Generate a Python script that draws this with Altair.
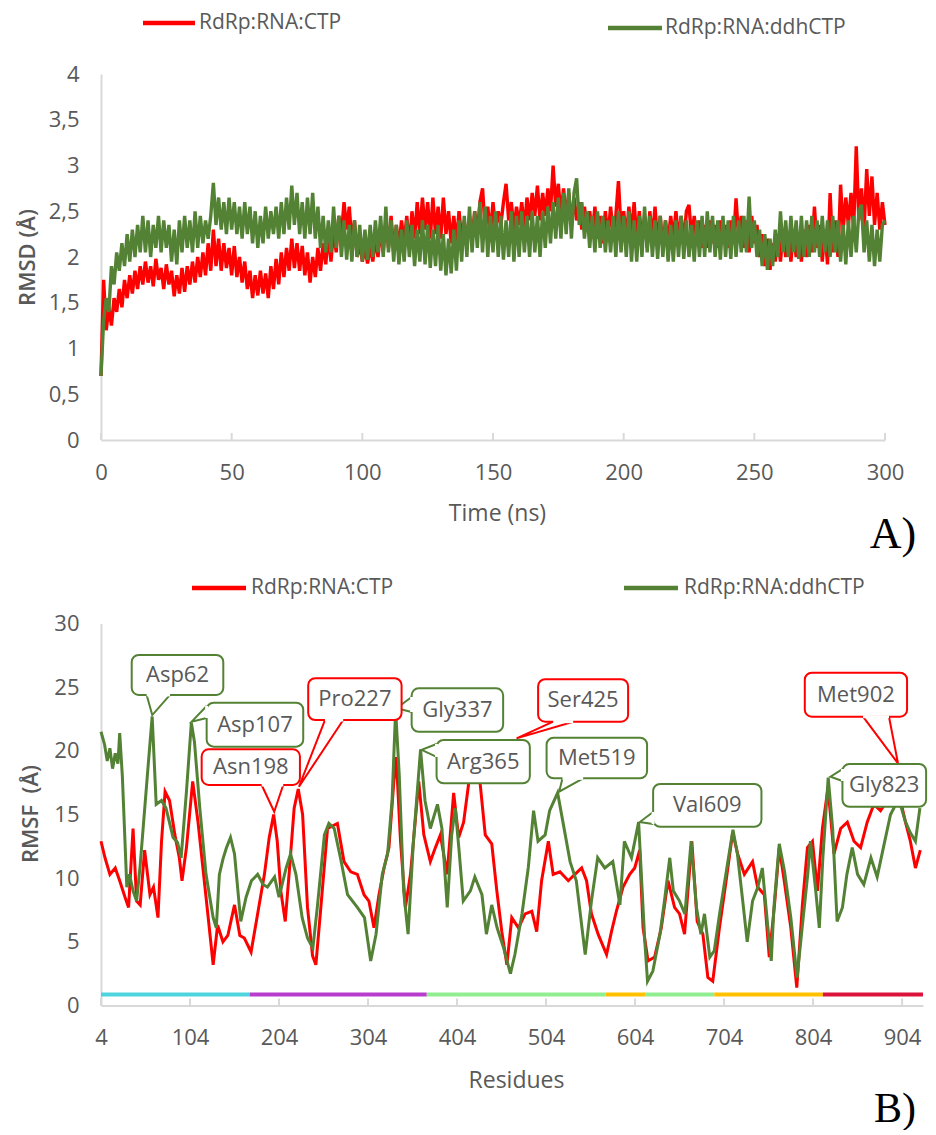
import altair as alt
import pandas as pd

RED = "#FF0000"
GREEN = "#548235"
TXT = "#595959"
AXC = "#D9D9D9"
FONT = "Open Sans"

# ---------------- Panel A data: RMSD vs time ----------------
time_ns = list(range(301))
rmsd_ctp = [
    0.70, 1.75, 1.20, 1.45, 1.25, 1.55, 1.40, 1.65, 1.45, 1.75,
    1.55, 1.80, 1.60, 1.85, 1.65, 1.90, 1.70, 1.95, 1.72, 1.90,
    1.68, 1.98, 1.75, 1.88, 1.65, 1.92, 1.70, 1.85, 1.57, 1.80,
    1.60, 1.88, 1.62, 1.90, 1.70, 1.95, 1.72, 2.00, 1.78, 2.05,
    1.80, 2.15, 1.85, 2.30, 1.90, 2.20, 1.85, 2.15, 1.88, 2.10,
    1.80, 2.12, 1.78, 2.00, 1.72, 1.95, 1.65, 1.85, 1.55, 1.80,
    1.58, 1.85, 1.60, 1.82, 1.55, 1.90, 1.65, 1.98, 1.70, 2.05,
    1.78, 2.10, 1.85, 2.20, 1.88, 2.15, 1.85, 2.12, 1.80, 2.05,
    1.72, 2.00, 1.78, 2.10, 1.85, 2.15, 1.92, 2.25, 1.95, 2.30,
    2.05, 2.45, 2.25, 2.60, 2.30, 2.55, 2.15, 2.40, 2.00, 2.15,
    1.95, 2.10, 1.93, 2.12, 1.95, 2.20, 2.00, 2.30, 2.05, 2.40,
    2.10, 2.45, 2.05, 2.35, 2.10, 2.40, 2.15, 2.45, 2.10, 2.50,
    2.20, 2.60, 2.25, 2.65, 2.30, 2.60, 2.20, 2.65, 2.25, 2.55,
    2.20, 2.65, 2.25, 2.50, 2.15, 2.45, 2.15, 2.50, 2.20, 2.40,
    2.15, 2.45, 2.20, 2.50, 2.25, 2.60, 2.75, 2.30, 2.55, 2.25,
    2.60, 2.30, 2.50, 2.35, 2.60, 2.80, 2.40, 2.60, 2.30, 2.55,
    2.35, 2.60, 2.30, 2.65, 2.40, 2.70, 2.45, 2.78, 2.40, 2.70,
    2.45, 2.75, 2.50, 3.00, 2.55, 2.80, 2.45, 2.75, 2.40, 2.70,
    2.35, 2.65, 2.40, 2.60, 2.30, 2.55, 2.30, 2.50, 2.25, 2.55,
    2.20, 2.45, 2.15, 2.50, 2.20, 2.55, 2.25, 2.45, 2.83, 2.30,
    2.50, 2.20, 2.55, 2.25, 2.60, 2.20, 2.50, 2.15, 2.45, 2.10,
    2.50, 2.20, 2.55, 2.15, 2.45, 2.10, 2.40, 2.15, 2.45, 2.20,
    2.50, 2.20, 2.45, 2.15, 2.50, 2.57, 2.20, 2.45, 2.15, 2.40,
    2.10, 2.35, 2.10, 2.40, 2.15, 2.35, 2.10, 2.40, 2.15, 2.35,
    2.10, 2.40, 2.15, 2.64, 2.20, 2.45, 2.10, 2.40, 2.05, 2.45,
    2.15, 2.35, 2.00, 2.25, 1.90, 2.20, 1.86, 2.15, 1.95, 2.25,
    1.95, 2.30, 2.00, 2.25, 1.95, 2.30, 2.00, 2.25, 1.95, 2.30,
    2.00, 2.35, 2.05, 2.55, 2.10, 2.35, 1.95, 2.30, 1.92, 2.70,
    2.05, 2.40, 2.00, 2.79, 2.30, 2.65, 2.35, 2.70, 2.30, 3.21,
    2.40, 2.75, 2.30, 2.96, 2.45, 2.88, 2.35, 2.70, 2.30, 2.60,
    2.35,
]
rmsd_ddhctp = [
    0.70, 1.30, 1.55, 1.40, 1.90, 1.70, 2.05, 1.85, 2.15, 1.90,
    2.25, 1.95, 2.30, 2.00, 2.35, 2.05, 2.45, 2.05, 2.40, 2.00,
    2.35, 2.10, 2.45, 2.05, 2.40, 2.10, 2.35, 1.95, 2.30, 1.92,
    2.40, 2.05, 2.45, 2.10, 2.40, 2.05, 2.50, 2.10, 2.45, 2.15,
    2.40, 2.20, 2.45, 2.81, 2.35, 2.65, 2.30, 2.60, 2.25, 2.65,
    2.30, 2.60, 2.25, 2.55, 2.20, 2.60, 2.25, 2.55, 2.15, 2.50,
    2.10, 2.45, 2.15, 2.55, 2.20, 2.50, 2.25, 2.55, 2.20, 2.60,
    2.25, 2.65, 2.30, 2.78, 2.35, 2.70, 2.25, 2.60, 2.20, 2.65,
    2.25, 2.70, 2.20, 2.55, 2.10, 2.45, 2.05, 2.40, 2.05, 2.55,
    2.10, 2.45, 2.00, 2.40, 1.97, 2.35, 1.95, 2.40, 2.00, 2.35,
    1.95, 2.30, 1.97, 2.35, 2.00, 2.40, 2.05, 2.45, 2.00, 2.55,
    2.05, 2.40, 1.95, 2.35, 1.92, 2.30, 1.95, 2.40, 2.00, 2.35,
    1.90, 2.30, 1.95, 2.40, 1.92, 2.35, 1.88, 2.30, 1.90, 2.35,
    1.85, 2.25, 1.80, 2.20, 1.82, 2.30, 1.85, 2.40, 1.95, 2.45,
    2.00, 2.55, 2.05, 2.50, 2.10, 2.60, 2.05, 2.55, 2.00, 2.45,
    2.05, 2.50, 2.00, 2.45, 1.97, 2.40, 2.00, 2.50, 1.95, 2.45,
    2.00, 2.50, 2.05, 2.45, 2.00, 2.50, 2.05, 2.45, 2.00, 2.50,
    2.10, 2.55, 2.15, 2.60, 2.20, 2.65, 2.20, 2.70, 2.25, 2.75,
    2.20, 2.70, 2.86, 2.35, 2.60, 2.20, 2.50, 2.10, 2.45, 2.05,
    2.50, 2.10, 2.45, 2.05, 2.40, 2.05, 2.45, 2.00, 2.50, 2.05,
    2.45, 2.00, 2.50, 1.95, 2.40, 1.95, 2.45, 2.00, 2.55, 2.05,
    2.45, 2.00, 2.40, 1.98, 2.45, 2.00, 2.40, 1.95, 2.35, 1.95,
    2.40, 2.00, 2.45, 1.98, 2.40, 2.00, 2.35, 1.95, 2.40, 2.00,
    2.45, 2.00, 2.50, 2.05, 2.45, 2.00, 2.40, 1.97, 2.45, 2.00,
    2.40, 1.98, 2.45, 2.00, 2.40, 2.05, 2.45, 2.05, 2.66, 2.10,
    2.40, 2.00, 2.30, 1.90, 2.25, 1.86, 2.20, 1.90, 2.30, 2.00,
    2.50, 2.05, 2.40, 2.00, 2.45, 2.05, 2.40, 1.98, 2.45, 2.00,
    2.40, 2.00, 2.45, 2.05, 2.40, 2.00, 2.45, 2.05, 2.40, 2.00,
    2.45, 2.05, 2.40, 1.95, 2.35, 1.92, 2.40, 2.00, 2.45, 2.05,
    2.50, 2.57, 2.05, 2.40, 1.95, 2.35, 1.90, 2.30, 1.95, 2.35,
    2.40,
]
rmsd_ticks = [0, 50, 100, 150, 200, 250, 300]
rmsd_yticks = [0, 0.5, 1, 1.5, 2, 2.5, 3, 3.5, 4]

# ---------------- Panel B data: RMSF vs residue ----------------
rmsf_ctp = [
    (4, 12.9), (8.5, 11.6), (14, 10.3), (20, 10.8), (25, 9.8), (31, 8.5), (35, 7.7), (40, 13.9),
    (44, 8.2), (48, 7.9), (53, 12.2), (59, 8.7), (63, 9.3), (68, 6.9), (72, 12.9), (76, 16.8),
    (81, 16.1), (87, 13.4), (92, 11.6), (95, 9.8), (100, 12.4), (107, 17.6), (113, 14.4),
    (118.5, 10.8), (124, 7.2), (130, 3.2), (135, 6.3), (141, 5.0), (146.5, 5.5), (154, 7.9),
    (160, 5.5), (165, 5.3), (172.6, 4.2), (180, 7.2), (187.6, 10.3), (193, 13.2), (198, 15.0),
    (202, 12.9), (206, 9.0), (211, 6.6), (215.5, 10.5), (221, 15.5), (225.6, 17.0), (230.5, 15.0),
    (236, 7.7), (241.7, 3.9), (245.4, 3.2), (251, 7.7), (258.5, 13.9), (269.6, 14.3), (277, 11.3),
    (284.6, 10.5), (292, 10.3), (299.5, 8.7), (305, 8.2), (310.7, 6.1), (316.3, 8.7), (322, 10.8),
    (327.5, 12.4), (333, 17.6), (335.7, 19.5), (340.5, 12.9), (346, 7.7), (351.7, 10.3), (361, 17.6),
    (366.7, 13.4), (374, 11.3), (379.7, 12.4), (385.3, 13.4), (392.8, 10.3), (400.2, 16.7),
    (405.8, 13.2), (411.4, 14.4), (417, 17.4), (422.6, 18.2), (430, 17.4), (435.7, 13.4), (443, 12.7),
    (448.7, 9.0), (454.3, 5.8), (460, 3.2), (465.5, 6.9), (473, 6.1), (480.5, 7.2), (488, 7.4),
    (493.5, 5.8), (499, 9.8), (506.6, 12.9), (512, 10.3), (519.6, 10.5), (529, 9.8), (536.4, 10.3),
    (544, 10.8), (549.5, 9.8), (555, 7.2), (562.5, 5.6), (572, 4.0), (577.5, 5.8), (583, 7.4),
    (590.5, 9.3), (598, 10.3), (603.6, 10.8), (609.2, 12.2), (613, 6.1), (618.6, 3.5), (626, 3.8),
    (633.5, 6.1), (641, 9.8), (648.4, 7.7), (654, 7.2), (659.6, 5.6), (667.8, 12.9), (673.8, 6.6),
    (680.2, 5.6), (685.8, 2.2), (691.3, 1.9), (698.8, 6.1), (706.3, 9.8), (713.7, 13.6), (719.3, 11.9),
    (726.8, 10.3), (736, 11.3), (741.7, 9.3), (749.2, 8.7), (754.8, 3.8), (760.4, 7.7), (766, 12.4),
    (771.6, 9.8), (779, 6.1), (785.7, 1.4), (792, 7.9), (797.7, 12.4), (803.3, 12.9), (809, 9.0),
    (814.5, 13.9), (820.8, 17.1), (827.5, 11.9), (835, 13.9), (842.5, 14.4), (850, 12.9),
    (857.4, 12.4), (864.8, 14.4), (872.3, 15.8), (879.8, 15.3), (887.2, 16.1), (894.7, 16.8),
    (902.2, 16.1), (907.8, 14.4), (913.3, 12.9), (919, 10.8), (924.5, 12.2),
]
rmsf_ddhctp = [
    (4, 21.5), (8, 20.5), (11, 19.2), (14, 20.2), (17, 18.6), (20, 19.8), (23, 19.0), (25, 21.4),
    (28, 18.0), (33, 9.3), (36, 10.3), (40, 9.0), (44, 8.2), (48, 11.0), (52, 14.5), (56, 18.0),
    (61.5, 22.7), (66, 15.8), (72, 16.1), (77, 15.5), (85, 13.2), (90, 12.8), (94, 11.6), (100, 16.8),
    (105.5, 22.2), (109, 20.7), (115, 15.5), (122, 10.3), (130, 6.9), (133.5, 6.1), (137, 10.3),
    (141, 11.5), (145, 12.4), (149.5, 13.2), (154, 11.9), (161, 6.6), (167, 8.5), (173, 9.8),
    (180, 10.3), (186, 9.5), (191, 9.3), (199, 10.1), (204, 8.5), (212, 10.8), (217, 11.9),
    (223, 10.3), (230, 6.9), (236, 5.3), (242, 4.5), (247, 7.7), (255, 13.4), (260, 14.3),
    (266, 13.9), (273, 11.6), (281, 8.7), (292, 7.7), (300, 6.9), (307, 3.5), (313, 5.6), (320, 10.3),
    (326, 11.9), (331, 16.1), (335, 23.2), (339, 18.2), (344, 9.0), (349, 5.6), (355, 12.9),
    (363, 20.1), (368, 16.1), (374, 13.9), (382, 15.8), (387, 13.9), (393, 7.7), (398, 13.4),
    (402, 15.5), (406, 12.4), (411, 8.2), (419, 9.0), (424, 10.1), (432, 8.7), (437, 5.6), (443, 7.9),
    (449, 6.1), (456, 4.6), (464, 2.5), (469, 4.0), (477, 7.2), (484, 10.8), (490, 15.3), (495, 12.9),
    (503, 13.4), (508, 15.3), (517, 16.7), (523, 14.4), (531, 11.3), (538, 9.8), (548, 4.0),
    (555, 8.2), (562, 11.6), (570, 10.8), (579, 11.3), (587, 7.9), (592, 12.9), (600, 11.6),
    (608, 14.4), (615, 5.0), (618, 1.9), (624, 2.7), (632, 5.6), (637, 8.2), (643, 11.6), (647, 9.0),
    (654, 8.2), (660, 7.2), (667, 12.9), (673, 7.7), (678, 5.6), (682, 7.2), (688, 3.8), (693, 4.3),
    (699, 7.2), (706, 10.3), (714, 13.8), (719, 11.9), (725, 8.2), (730, 5.0), (736, 8.2), (742, 9.3),
    (747, 10.8), (753, 6.3), (757, 3.5), (760, 7.7), (766, 12.7), (772, 10.5), (779, 6.9), (786, 2.2),
    (792, 6.3), (798, 10.3), (801, 12.9), (807, 9.0), (811, 6.1), (815, 11.6), (821, 17.9),
    (826, 13.9), (831, 6.6), (837, 7.7), (842, 10.3), (848, 12.4), (854, 10.3), (861, 9.5),
    (869, 11.6), (876, 10.1), (883, 12.4), (891, 15.0), (897, 15.8), (902, 15.8), (908, 14.4),
    (913, 13.6), (919, 12.9), (924, 15.5),
]
rmsf_ticks = [4, 104, 204, 304, 404, 504, 604, 704, 804, 904]
rmsf_yticks = [0, 5, 10, 15, 20, 25, 30]

# domain bar along the bottom of panel B: (start, end, colour)
domain_level = 0.86
domain_segments = [
    (4, 171, "#4FD3DD"), (171, 370, "#B83DCC"), (370, 571, "#90EE90"),
    (571, 616, "#FFC000"), (616, 693, "#90EE90"), (693, 815, "#FFC000"),
    (815, 927.5, "#DC143C"),
]

# callouts: name, colour, box x0, x1, box top, bottom, base1 (x,y), base2 (x,y), tip (x,y)
callouts = [
    ("Asp62", GREEN, 38.5, 141.4, 27.53, 24.39, 55.3, 24.39, 81.5, 24.39, 61.6, 22.81),
    ("Asp107", GREEN, 122.7, 231.2, 23.78, 20.33, 122.7, 23.52, 122.7, 22.58, 105.9, 22.29),
    ("Asn198", RED, 117.1, 227.5, 20.12, 17.32, 184.5, 17.32, 208.7, 17.32, 198.6, 15.22),
    ("Pro227", RED, 236.8, 341.7, 25.70, 22.42, 255.6, 22.42, 276.1, 22.42, 226.4, 17.18),
    ("Gly337", GREEN, 353.0, 455.8, 24.91, 21.50, 353.0, 24.23, 353.0, 23.05, 336.1, 23.34),
    ("Ser425", RED, 495.1, 596.2, 25.62, 22.29, 512.0, 22.29, 534.5, 22.29, 470.9, 20.98),
    ("Arg365", GREEN, 381.0, 485.8, 20.85, 17.45, 381.0, 20.54, 381.0, 19.52, 364.2, 20.07),
    ("Met519", GREEN, 504.6, 617.5, 21.03, 17.84, 522.5, 17.84, 545.7, 17.84, 518.7, 16.79),
    ("Val609", GREEN, 624.3, 746.0, 17.40, 14.04, 624.3, 15.20, 624.3, 14.25, 609.3, 14.41),
    ("Met902", RED, 794.7, 909.6, 26.14, 22.68, 860.1, 22.68, 889.3, 22.68, 899.4, 19.02),
    ("Gly823", GREEN, 837.0, 931.0, 18.97, 15.61, 837.0, 18.57, 837.0, 17.63, 823.5, 17.97),
]

series_names = ["RdRp:RNA:CTP", "RdRp:RNA:ddhCTP"]

# ---------------- helpers ----------------
WA, HA = 784, 366
WB, HB = 822, 382


def x_axis(values, title, tx, ty):
    return alt.Axis(values=values, title=title, grid=False, ticks=False,
                    domainColor=AXC, domainWidth=2, labelPadding=22,
                    labelFont=FONT, labelFontSize=22, labelColor=TXT,
                    labelFlush=False, labelOverlap=False,
                    titleFont=FONT, titleFontSize=23, titleColor=TXT,
                    titleFontWeight="normal", titleX=tx, titleY=ty,
                    titleAlign="center", titleBaseline="middle", titleAngle=0)


def y_axis(values, title, tx, ty, expr=None):
    kw = dict(values=values, title=title, grid=False, ticks=False,
              domainColor=AXC, domainWidth=2, labelPadding=22,
              labelFont=FONT, labelFontSize=22, labelColor=TXT,
              labelFlush=False, labelOverlap=False, labelBaseline="middle",
              titleFont=FONT, titleFontSize=22, titleColor=TXT,
              titleFontWeight=600, titleX=tx, titleY=ty,
              titleAlign="center", titleBaseline="middle", titleAngle=270)
    if expr:
        kw["labelExpr"] = expr
    return alt.Axis(**kw)


one = pd.DataFrame({"a": [0]})


def legend_layers(y_red, y_green, xr, xg):
    out = []
    for (x0, x1, xt, yy, col, name) in [(xr[0], xr[1], xr[2], y_red, RED, series_names[0]),
                                         (xg[0], xg[1], xg[2], y_green, GREEN, series_names[1])]:
        out.append(alt.Chart(one).mark_rule(color=col, strokeWidth=4.5).encode(
            x=alt.value(x0), x2=alt.value(x1), y=alt.value(yy)))
        out.append(alt.Chart(one).mark_text(text=name, align="left", baseline="middle",
                                            font=FONT, fontSize=21, color=TXT).encode(
            x=alt.value(xt), y=alt.value(yy)))
    return out


# ---------------- Panel A ----------------
xsA = alt.Scale(domain=[0, 300], nice=False, zero=False)
ysA = alt.Scale(domain=[0, 4], nice=False)
axA_x = x_axis(rmsd_ticks, "Time (ns)", 396, 73)
axA_y = y_axis(rmsd_yticks, "RMSD (Å)", -74, 183,
               expr="replace(format(datum.value, '~g'), '.', ',')")
XA = alt.X("x:Q", scale=xsA, axis=axA_x)
YA = alt.Y("y:Q", scale=ysA, axis=axA_y)

dfA_red = pd.DataFrame({"x": time_ns, "y": rmsd_ctp})
dfA_green = pd.DataFrame({"x": time_ns, "y": rmsd_ddhctp})
dfA_ticks = pd.DataFrame({"x": rmsd_ticks})

layersA = [
    alt.Chart(dfA_red).mark_line(color=RED, strokeWidth=3.4).encode(x=XA, y=YA),
    alt.Chart(dfA_green).mark_line(color=GREEN, strokeWidth=3.4).encode(x=XA, y=YA),
    alt.Chart(dfA_ticks).mark_rule(color=AXC, strokeWidth=2).encode(
        x=XA, y=alt.value(HA - 7), y2=alt.value(HA)),
]
layersA += legend_layers(-51, -46, (42, 94, 98), (507, 561, 564))
layersA += [
    alt.Chart(one).mark_text(text="A)", font="Liberation Serif", fontSize=44,
                             color="black", align="center", baseline="middle").encode(
        x=alt.value(792), y=alt.value(461)),
    # white anchor fixing the page origin
    alt.Chart(one).mark_rule(color="white", strokeWidth=1).encode(
        x=alt.value(-92.0), x2=alt.value(-91.0), y=alt.value(-65.0)),
]
panelA = alt.layer(*layersA).properties(width=WA, height=HA)

# ---------------- Panel B ----------------
xsB = alt.Scale(domain=[4, 927.5], nice=False, zero=False)
ysB = alt.Scale(domain=[0, 30], nice=False)
axB_x = x_axis(rmsf_ticks, "Residues", 415, 75)
axB_y = y_axis(rmsf_yticks, "RMSF\u00a0 (Å)", -71, 190)


def XB(f="x"):
    return alt.X(f + ":Q", scale=xsB, axis=axB_x)


def YB(f="y"):
    return alt.Y(f + ":Q", scale=ysB, axis=axB_y)


dfB_red = pd.DataFrame(rmsf_ctp, columns=["x", "y"])
dfB_green = pd.DataFrame(rmsf_ddhctp, columns=["x", "y"])
dfB_dom = pd.DataFrame([{"x": a, "x2": b, "y": domain_level, "c": c} for a, b, c in domain_segments])
dfB_ticks = pd.DataFrame({"x": rmsf_ticks})

v_rows, box_rows, cover_rows = [], [], []
for i, (nm, col, x0, x1, yt, yb, b1x, b1y, b2x, b2y, tx, ty) in enumerate(callouts):
    v_rows += [{"id": i, "o": 0, "x": b1x, "y": b1y, "c": col},
               {"id": i, "o": 1, "x": tx, "y": ty, "c": col},
               {"id": i, "o": 2, "x": b2x, "y": b2y, "c": col}]
    box_rows.append({"x": x0, "x2": x1, "y": yt, "y2": yb, "c": col, "name": nm,
                     "cx": (x0 + x1) / 2, "cy": (yt + yb) / 2})
    cover_rows.append({"x": b1x, "y": b1y, "x2": b2x, "y2": b2y})
dfV = pd.DataFrame(v_rows)
dfBox = pd.DataFrame(box_rows)
dfCover = pd.DataFrame(cover_rows)

layersB = [
    alt.Chart(dfB_dom).mark_rule(strokeWidth=4).encode(
        x=XB(), x2="x2:Q", y=YB(), color=alt.Color("c:N", scale=None)),
    alt.Chart(dfB_red).mark_line(color=RED, strokeWidth=3).encode(x=XB(), y=YB()),
    alt.Chart(dfB_green).mark_line(color=GREEN, strokeWidth=3).encode(x=XB(), y=YB()),
    alt.Chart(dfV).mark_line(strokeWidth=2).encode(
        x=XB(), y=YB(), detail="id:N", order="o:Q", color=alt.Color("c:N", scale=None)),
    alt.Chart(dfBox).mark_rect(fill="white", strokeWidth=2, cornerRadius=7).encode(
        x=XB(), x2="x2:Q", y=YB(), y2="y2:Q", stroke=alt.Stroke("c:N", scale=None)),
    alt.Chart(dfCover).mark_rule(color="white", strokeWidth=3).encode(
        x=XB(), y=YB(), x2="x2:Q", y2="y2:Q"),
    alt.Chart(dfBox).mark_text(font=FONT, fontSize=22, color=TXT, baseline="middle").encode(
        x=XB("cx"), y=YB("cy"), text="name:N"),
    alt.Chart(dfB_ticks).mark_rule(color=AXC, strokeWidth=2).encode(
        x=XB(), y=alt.value(HB - 7), y2=alt.value(HB)),
]
layersB += legend_layers(-35.5, -35.5, (91, 145, 150), (523, 577, 583))
layersB += [
    alt.Chart(one).mark_text(text="B)", font="Liberation Serif", fontSize=42,
                             color="black", align="center", baseline="middle").encode(
        x=alt.value(794), y=alt.value(485)),
]
panelB = alt.layer(*layersB).properties(width=WB, height=HB)

chart = alt.vconcat(panelA, panelB, spacing=183.5, bounds="flush").properties(
    padding=0, background="white").configure_view(stroke=None)

chart.save("out.html", embed_options={"renderer": "svg", "actions": False})
